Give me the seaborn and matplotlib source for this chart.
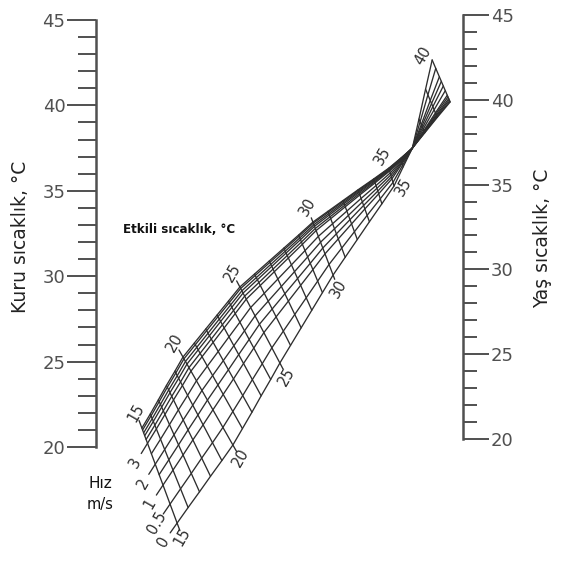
import numpy as np
import pandas as pd
import seaborn as sns
import matplotlib.pyplot as plt

# effective temperature lines (°C) and where they meet the two edge curves
# of the grid, in chart units: u = 0 on the dry-bulb scale, u = 1 on the wet-bulb scale,
# T = reading on the dry-bulb (left) scale
et = [15, 16, 17, 18, 19, 20, 21, 22, 23, 24, 25, 26, 27, 28, 29, 30,
      31, 32, 33, 34, 35, 36, 37, 38, 39, 40]
# edge with air speed 0
u_still = [0.221, 0.251, 0.282, 0.312, 0.343, 0.373, 0.399, 0.425, 0.450, 0.476,
           0.501, 0.530, 0.559, 0.588, 0.617, 0.646, 0.679, 0.712, 0.745, 0.779,
           0.812, 0.837, 0.862, 0.880, 0.898, 0.916]
t_still = [15.55, 16.46, 17.38, 18.29, 19.21, 20.12, 21.08, 22.04, 23.00, 23.96,
           24.92, 25.95, 26.98, 28.01, 29.04, 30.07, 31.11, 32.15, 33.19, 34.24,
           35.28, 36.40, 37.50, 39.20, 40.95, 42.66]
# edge with highest air speed
u_fast = [0.125, 0.148, 0.170, 0.192, 0.215, 0.237, 0.268, 0.299, 0.330, 0.361,
          0.392, 0.432, 0.472, 0.512, 0.552, 0.591, 0.632, 0.673, 0.714, 0.757,
          0.798, 0.830, 0.862, 0.896, 0.930, 0.965]
t_fast = [21.11, 21.94, 22.77, 23.61, 24.44, 25.27, 26.09, 26.91, 27.73, 28.55,
          29.37, 30.13, 30.89, 31.65, 32.41, 33.17, 33.80, 34.43, 35.06, 35.70,
          36.33, 36.90, 37.50, 38.40, 39.30, 40.20]

# air speed lines (m/s) and their place across the grid (0 = still edge, 1 = fast edge)
speed = [0, 0.5, 1, 1.5, 2, 2.5, 3, 3.5, 4, 5, 6, 7]
speed_pos = [0, 0.2, 0.4, 0.51, 0.62, 0.73, 0.84, 0.88, 0.92, 0.95, 0.98, 1.0]
speed_labels = {0: '0', 0.5: '0.5', 1: '1', 2: '2', 3: '3'}

top_labels = [15, 20, 25, 30, 35]
bottom_labels = [15, 20, 25, 30, 35]

ink = '#2e2e2e'
axis_ink = '#505050'

sns.set_theme(style='white')
plt.rcParams['font.family'] = ['DejaVu Sans']

fig = plt.figure(figsize=(5.67, 5.61), dpi=100)
ax = fig.add_axes([0, 0, 1, 1])
ax.set_xlim(-0.2616, 1.2834)
ax.set_ylim(13.33, 46.17)
ax.patch.set_alpha(0)

# pixels per chart unit, used to place labels along the lines
sx = 567 / (1.2834 + 0.2616)
sy = 561 / (46.17 - 13.33)

u0 = np.array(u_still)
t0 = np.array(t_still)
u1 = np.array(u_fast)
t1 = np.array(t_fast)

rows = []
for v, f in zip(speed, speed_pos):
    for i, e in enumerate(et):
        rows.append({'speed': v, 'et': e,
                     'u': u0[i] + f * (u1[i] - u0[i]),
                     't': t0[i] + f * (t1[i] - t0[i])})
grid = pd.DataFrame(rows)

# air speed lines
sns.lineplot(data=grid, x='u', y='t', units='speed', estimator=None, sort=False,
             color=ink, lw=0.95, ax=ax, legend=False)

# effective temperature lines (labelled ones a bit longer)
et_rows = []
for i, e in enumerate(et):
    lo, hi = (0, 1)
    if e % 5 == 0 and e < 35:
        lo, hi = (-0.08, 1.08)
    for f in (lo, hi):
        et_rows.append({'et': e, 'u': u0[i] + f * (u1[i] - u0[i]),
                        't': t0[i] + f * (t1[i] - t0[i])})
et_df = pd.DataFrame(et_rows)
sns.lineplot(data=et_df, x='u', y='t', units='et', estimator=None, sort=False,
             color=ink, lw=0.95, ax=ax, legend=False)


def along(ua, ta, ub, tb, dist):
    # point `dist` pixels beyond b on the line a->b
    dx = (ub - ua) * sx
    dy = (tb - ta) * sy
    n = np.hypot(dx, dy)
    return ub + dx / n * dist / sx, tb + dy / n * dist / sy


def shift(u, t, dx, dy):
    # move a point by screen pixels (dy positive = down)
    return u + dx / sx, t - dy / sy


lab = dict(rotation=60, ha='center', va='center', fontsize=10.5, color=ink)
for e in top_labels:
    i = et.index(e)
    if e == 35:
        x, y = shift(u1[i], t1[i], -6, -12)
    else:
        x, y = along(u0[i], t0[i], u1[i], t1[i], 16)
    ax.text(x, y, str(e), **lab)
for e in bottom_labels:
    i = et.index(e)
    if e == 35:
        x, y = shift(u0[i], t0[i], 10, 1)
    else:
        x, y = along(u1[i], t1[i], u0[i], t0[i], 15)
    ax.text(x, y, str(e), **lab)
i = et.index(40)
x, y = shift(u0[i], t0[i], -9, -4)
ax.text(x, y, '40', **lab)

# short stubs and labels for the air speed lines
for v, f in zip(speed, speed_pos):
    if v not in speed_labels:
        continue
    ua = u0[1] + f * (u1[1] - u0[1])
    ta = t0[1] + f * (t1[1] - t0[1])
    ub = u0[0] + f * (u1[0] - u0[0])
    tb = t0[0] + f * (t1[0] - t0[0])
    xs, ys = along(ua, ta, ub, tb, 12)
    ax.plot([ub, xs], [tb, ys], color=ink, lw=0.95)
    xl, yl = along(ua, ta, ub, tb, 23)
    ax.text(xl, yl, speed_labels[v], **lab)

# dry bulb scale (left)
for s in ['top', 'bottom', 'right']:
    ax.spines[s].set_visible(False)
ax.spines['left'].set_position(('data', 0))
ax.spines['left'].set_bounds(20, 45)
ax.spines['left'].set_color(axis_ink)
ax.spines['left'].set_linewidth(1.8)
ax.set_xticks([])
ax.set_yticks(np.arange(20, 46, 5))
ax.set_yticks(np.arange(20, 46, 1), minor=True)
ax.tick_params(axis='y', which='major', left=True, length=21, width=1.4, pad=1,
               labelsize=13, colors=axis_ink, direction='out')
ax.tick_params(axis='y', which='minor', left=True, length=13, width=1.4,
               colors=axis_ink, direction='out')
ax.set_xlabel('')
ax.set_ylabel('')

# wet bulb scale (right)
ax2 = ax.twinx()
ax2.set_position([0, 0, 1, 1])
ax2.set_ylim(12.807, 45.884)
for s in ['top', 'bottom', 'left']:
    ax2.spines[s].set_visible(False)
ax2.spines['right'].set_position(('data', 1))
ax2.spines['right'].set_bounds(20, 45)
ax2.spines['right'].set_color(axis_ink)
ax2.spines['right'].set_linewidth(1.8)
ax2.set_yticks(np.arange(20, 46, 5))
ax2.set_yticks(np.arange(20, 46, 1), minor=True)
ax2.tick_params(axis='y', which='major', right=True, length=19, width=1.4, pad=1,
                labelsize=13, colors=axis_ink, direction='out')
ax2.tick_params(axis='y', which='minor', right=True, length=10, width=1.4,
                colors=axis_ink, direction='out')
ax2.grid(False)
ax.grid(False)

fig.text(21 / 567, 1 - 237 / 561, 'Kuru sıcaklık, °C', rotation=90,
         ha='center', va='center', fontsize=13.5, color='#222222')
fig.text(543 / 567, 1 - 238 / 561, 'Yaş sıcaklık, °C', rotation=90,
         ha='center', va='center', fontsize=13.5, color='#222222')
fig.text(123 / 567, 1 - 230 / 561, 'Etkili sıcaklık, °C', ha='left', va='center',
         fontsize=8.6, fontweight='bold', color='#111111')
fig.text(100 / 567, 1 - 484 / 561, 'Hız', ha='center', va='center', fontsize=11,
         color='#111111')
fig.text(100 / 567, 1 - 505 / 561, 'm/s', ha='center', va='center', fontsize=10.5,
         color='#111111')

fig.savefig('out.png', dpi=100, facecolor='white')
